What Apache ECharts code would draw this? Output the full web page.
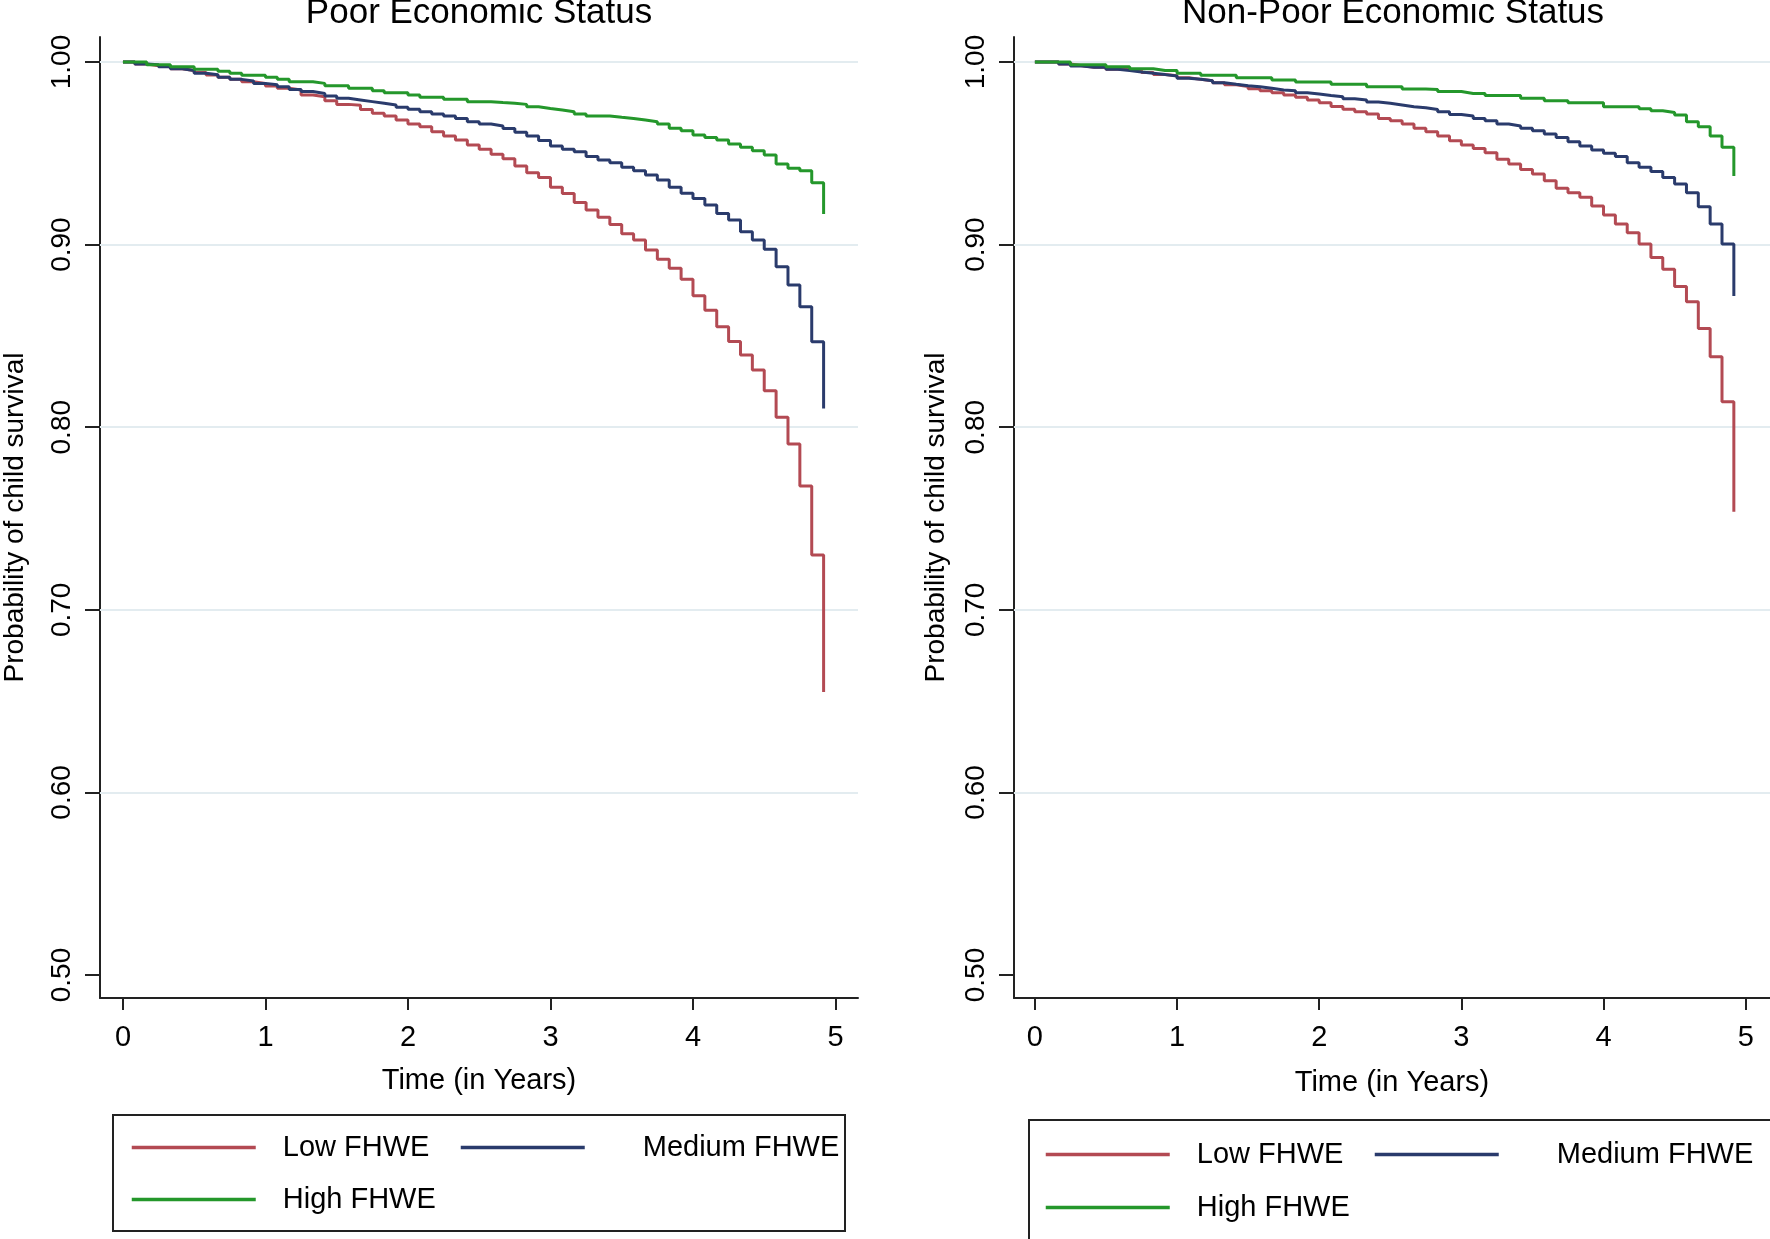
<!DOCTYPE html>
<html>
<head>
<meta charset="utf-8">
<script src="https://cdn.jsdelivr.net/npm/echarts@6/dist/echarts.min.js"></script>
<style>
html,body{margin:0;padding:0;background:#fff;}
#chart{width:1770px;height:1239px;}
</style>
</head>
<body>
<div id="chart"></div>
<script>
// Time in months (steps of the Kaplan-Meier curves); axis is in years
const months = [0,1,2,3,4,5,6,7,8,9,10,11,12,13,14,15,16,17,18,19,20,21,22,23,24,25,26,27,28,29,30,31,32,33,34,35,36,37,38,39,40,41,42,43,44,45,46,47,48,49,50,51,52,53,54,55,56,57,58,59];

const seriesNames = ['Low FHWE', 'Medium FHWE', 'High FHWE'];
const panelTitles = ['Poor Economic Status', 'Non-Poor Economic Status'];
const xTickValues = [0, 1, 2, 3, 4, 5];
const yTickValues = [0.5, 0.6, 0.7, 0.8, 0.9, 1.0];
const yGridValues = [0.6, 0.7, 0.8, 0.9, 1.0];

// Poor economic status
const poorLow = [1.0,0.9989,0.998,0.9974,0.9963,0.9953,0.9942,0.9929,0.9916,0.9905,0.9892,0.9883,0.9869,0.9856,0.9847,0.9819,0.981,0.9788,0.9768,0.9763,0.974,0.9719,0.9704,0.9682,0.966,0.9646,0.9618,0.9595,0.9573,0.9545,0.9522,0.9495,0.947,0.943,0.9394,0.9368,0.9314,0.928,0.923,0.919,0.915,0.911,0.906,0.9025,0.897,0.892,0.887,0.881,0.872,0.864,0.855,0.847,0.8395,0.8313,0.820,0.8054,0.7908,0.7678,0.730,0.655];
const poorMed = [1.0,0.9989,0.9985,0.9974,0.9963,0.9953,0.9938,0.993,0.9916,0.9905,0.9896,0.9883,0.9876,0.9865,0.985,0.9838,0.9828,0.9814,0.9801,0.9792,0.9783,0.9774,0.9765,0.9752,0.9741,0.9728,0.9715,0.9704,0.9691,0.9673,0.966,0.965,0.9636,0.9615,0.9595,0.957,0.954,0.9522,0.9509,0.9482,0.9463,0.9449,0.9423,0.9405,0.9381,0.9354,0.9314,0.9281,0.9253,0.9217,0.9171,0.9135,0.9071,0.9025,0.8974,0.8879,0.8779,0.866,0.8468,0.8103];
const poorHigh = [1.0,1.0,0.9985,0.9985,0.9974,0.9974,0.996,0.996,0.9949,0.9938,0.9927,0.9927,0.9916,0.9905,0.9892,0.9892,0.9883,0.987,0.987,0.9856,0.9856,0.9843,0.9832,0.9832,0.9819,0.9807,0.9807,0.9796,0.9796,0.9783,0.9783,0.9778,0.9774,0.9768,0.9755,0.9745,0.9737,0.9728,0.9715,0.9704,0.9704,0.9697,0.9691,0.9682,0.9673,0.966,0.9637,0.9624,0.96,0.9587,0.9573,0.9551,0.9533,0.9514,0.9491,0.9441,0.9418,0.9405,0.9339,0.9168];

// Non-poor economic status
const nonPoorLow = [1.0,1.0,0.9989,0.998,0.9971,0.9971,0.996,0.996,0.9953,0.9942,0.9931,0.9925,0.9914,0.9905,0.9898,0.9887,0.9876,0.9866,0.9854,0.9843,0.9832,0.9819,0.9807,0.9792,0.9777,0.9756,0.9741,0.9728,0.9715,0.9691,0.9679,0.966,0.9637,0.9618,0.9595,0.9569,0.9545,0.9527,0.9503,0.9467,0.9441,0.9412,0.9387,0.935,0.9308,0.9284,0.9259,0.9211,0.9162,0.9113,0.9065,0.9003,0.893,0.8865,0.877,0.8687,0.8541,0.8386,0.814,0.7537];
const nonPoorMed = [1.0,1.0,0.9989,0.9978,0.9971,0.9971,0.996,0.9953,0.9945,0.9938,0.9931,0.9923,0.9911,0.9905,0.9898,0.9887,0.9878,0.987,0.9865,0.9856,0.9847,0.9843,0.9832,0.9825,0.9817,0.981,0.9799,0.9792,0.9781,0.9774,0.9765,0.9755,0.975,0.974,0.9727,0.9713,0.9704,0.9691,0.9679,0.966,0.965,0.9637,0.9624,0.9606,0.9587,0.9564,0.954,0.9518,0.95,0.9482,0.9449,0.9423,0.94,0.9368,0.9332,0.9284,0.9208,0.9113,0.9003,0.8718];
const nonPoorHigh = [1.0,1.0,1.0,0.9985,0.9985,0.9985,0.9974,0.9974,0.9963,0.9963,0.9953,0.9953,0.9938,0.9938,0.9927,0.9927,0.9927,0.9914,0.9914,0.9914,0.9901,0.9901,0.989,0.989,0.989,0.9878,0.9878,0.9878,0.9865,0.9865,0.9865,0.9852,0.9852,0.985,0.9838,0.9838,0.9828,0.9828,0.9816,0.9816,0.9816,0.9801,0.9801,0.9788,0.9788,0.9777,0.9777,0.9777,0.9755,0.9755,0.9755,0.9744,0.9733,0.9723,0.971,0.9673,0.9646,0.9595,0.9533,0.9376];

const colors = ['#b34a53', '#2a3b6c', '#24972b'];
const FONT = '"Liberation Sans", Arial, sans-serif';

const chart = echarts.init(document.getElementById('chart'), null, {renderer: 'canvas'});

function curve(name, values, color, gi, withGrid) {
  const s = {
    type: 'line', name: name, xAxisIndex: gi, yAxisIndex: gi,
    step: 'end', symbol: 'none', showSymbol: false, z: 3,
    data: months.map((m, i) => [m / 12, values[i]]),
    lineStyle: {color: color, width: 3},
    itemStyle: {color: color},
    emphasis: {disabled: true},
    animation: false
  };
  if (withGrid) {
    s.markLine = {
      silent: true, symbol: 'none', z: 1, animation: false,
      label: {show: false},
      lineStyle: {color: '#e3ecf0', width: 2, type: 'solid'},
      emphasis: {disabled: true},
      data: yGridValues.map(v => ({yAxis: v}))
    };
  }
  return s;
}

function xAxis(gi, min, max, nameGap) {
  return {
    type: 'value', gridIndex: gi, min: min, max: max,
    name: 'Time (in Years)', nameLocation: 'middle', nameGap: nameGap,
    nameTextStyle: {fontFamily: FONT, fontSize: 29, color: '#000'},
    axisLine: {show: true, onZero: false, lineStyle: {color: '#222', width: 2}},
    axisTick: {show: true, length: 12, customValues: xTickValues, lineStyle: {color: '#222', width: 2}},
    axisLabel: {show: true, customValues: xTickValues, margin: 25, fontFamily: FONT, fontSize: 29, color: '#000',
      formatter: v => String(Math.round(v))},
    splitLine: {show: false}
  };
}

function yAxis(gi, nameGap) {
  return {
    type: 'value', gridIndex: gi, min: 0.4874, max: 1.0137,
    name: 'Probability of child survival', nameLocation: 'middle', nameGap: nameGap,
    nameTextStyle: {fontFamily: FONT, fontSize: 28, color: '#000'},
    axisLine: {show: true, onZero: false, lineStyle: {color: '#222', width: 2}},
    axisTick: {show: true, length: 15, customValues: yTickValues, lineStyle: {color: '#222', width: 2}},
    axisLabel: {show: true, customValues: yTickValues, rotate: 90, margin: 24, fontFamily: FONT, fontSize: 28, color: '#000',
      formatter: v => v.toFixed(2)},
    splitLine: {show: false}
  };
}

function legendItem(name, left, top, textPad) {
  return {
    data: [name], left: left, top: top, padding: 0, selectedMode: false,
    itemWidth: 124, itemHeight: 14, orient: 'horizontal',
    itemStyle: {opacity: 0},
    lineStyle: {width: 3.5},
    textStyle: {fontFamily: FONT, fontSize: 29, color: '#000', padding: [0, 0, 0, textPad]}
  };
}

const option = {
  backgroundColor: '#fff',
  animation: false,
  title: [
    {text: panelTitles[0], left: 479, top: -4, textAlign: 'center', padding: 0,
      textStyle: {fontFamily: FONT, fontSize: 35, fontWeight: 'normal', color: '#000'}},
    {text: panelTitles[1], left: 1393, top: -4, textAlign: 'center', padding: 0,
      textStyle: {fontFamily: FONT, fontSize: 35, fontWeight: 'normal', color: '#000'}}
  ],
  grid: [
    {left: 99, top: 37, width: 759, height: 961, containLabel: false},
    {left: 1014, top: 37, width: 759, height: 961, containLabel: false}
  ],
  xAxis: [
    xAxis(0, -0.161, 5.158, 68),
    xAxis(1, -0.147, 5.171, 70)
  ],
  yAxis: [
    yAxis(0, 71),
    yAxis(1, 64)
  ],
  legend: [
    legendItem(seriesNames[0], 130, 1133, 22),
    legendItem(seriesNames[1], 459, 1133, 53),
    legendItem(seriesNames[2], 130, 1185, 22),
    legendItem(seriesNames[0], 1044, 1140, 22),
    legendItem(seriesNames[1], 1373, 1140, 53),
    legendItem(seriesNames[2], 1044, 1193, 22)
  ],
  graphic: [
    {type: 'rect', silent: true, shape: {x: 113, y: 1115, width: 732, height: 116},
      style: {fill: 'none', stroke: '#222', lineWidth: 2}},
    {type: 'rect', silent: true, shape: {x: 1029, y: 1120, width: 760, height: 130},
      style: {fill: 'none', stroke: '#222', lineWidth: 2}}
  ],
  series: [
    curve(seriesNames[0], poorLow, colors[0], 0, true),
    curve(seriesNames[1], poorMed, colors[1], 0, false),
    curve(seriesNames[2], poorHigh, colors[2], 0, false),
    curve(seriesNames[0], nonPoorLow, colors[0], 1, true),
    curve(seriesNames[1], nonPoorMed, colors[1], 1, false),
    curve(seriesNames[2], nonPoorHigh, colors[2], 1, false)
  ]
};
chart.setOption(option);
</script>
</body>
</html>
